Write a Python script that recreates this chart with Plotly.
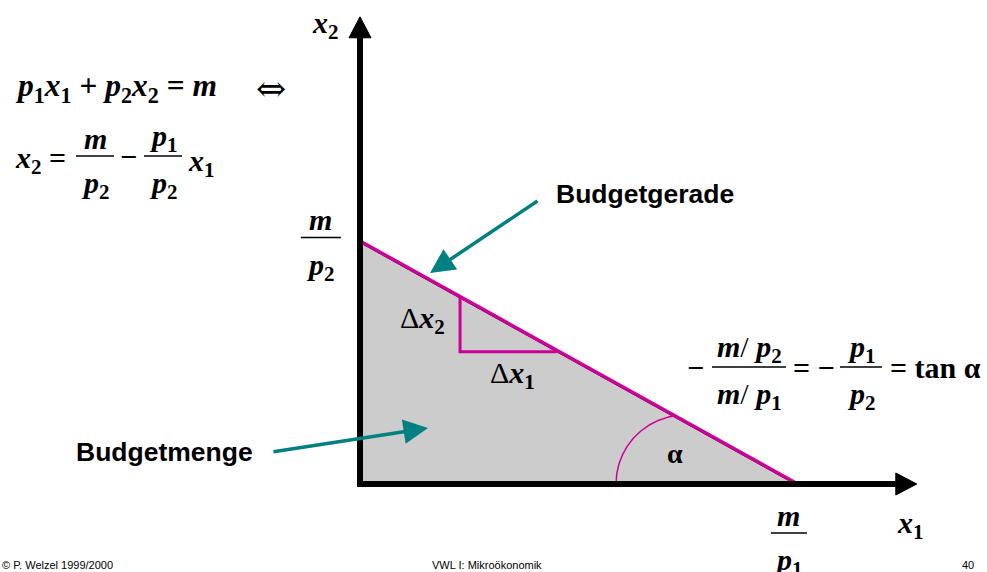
import numpy as np
import plotly.graph_objects as go

# budget line intercepts: m/p1 on the x1 axis, m/p2 on the x2 axis
m_p1 = 10.0
m_p2 = 5.55
# arrow tips of the two axes
x1_end = 12.8
x2_end = 10.74
# small slope triangle (start and end on x1)
delta_x = [2.3, 4.52]
# alpha arc: centre on the x1 axis and radius
arc_centre = 7.47
arc_radius = 1.585

U = 43.5           # pixels per unit
X0, Y0 = 360, 484  # pixel position of the origin
W, H = 987, 572

SERIF = "Liberation Serif"
SANS = "Liberation Sans"
MAGENTA = "#CC0099"
TEAL = "#008080"


def budget(x):
    return m_p2 * (1 - np.asarray(x) / m_p1)


def v(name, sub=None):
    s = "<b><i>%s</i></b>" % name
    if sub:
        s += "<sub><b>%s</b></sub>" % sub
    return s


fig = go.Figure()

# budget set
fig.add_trace(go.Scatter(
    x=[0, 0, m_p1, 0], y=[0, m_p2, 0, 0], fill="toself",
    fillcolor="#CCCCCC", line=dict(color="black", width=1), mode="lines"))

# budget line (magenta, sits just above the black edge)
off = 1.5 / U
fig.add_trace(go.Scatter(
    x=[0, m_p1], y=[m_p2 + off, off], mode="lines",
    line=dict(color=MAGENTA, width=3.5)))

# slope triangle
fig.add_trace(go.Scatter(
    x=[delta_x[0], delta_x[0], delta_x[1]],
    y=[budget(delta_x[0]), budget(delta_x[1]), budget(delta_x[1])],
    mode="lines", line=dict(color=MAGENTA, width=3)))

# alpha arc, from the x1 axis up to the budget line
theta = np.linspace(np.pi, np.pi / 2, 300)
ax_ = arc_centre + arc_radius * np.cos(theta)
ay_ = arc_radius * np.sin(theta)
keep = ay_ <= budget(ax_)
fig.add_trace(go.Scatter(x=ax_[keep], y=ay_[keep], mode="lines",
                         line=dict(color=MAGENTA, width=1.5)))

# axes with arrow heads
head_len = 21 / U
head_half = 11 / U
fig.add_trace(go.Scatter(
    x=[0, 0, x1_end - head_len], y=[x2_end - head_len, 0, 0], mode="lines",
    line=dict(color="black", width=6)))
fig.add_trace(go.Scatter(
    x=[-head_half, head_half, 0, -head_half],
    y=[x2_end - head_len, x2_end - head_len, x2_end, x2_end - head_len],
    fill="toself", fillcolor="black", mode="lines", line=dict(color="black", width=1)))
fig.add_trace(go.Scatter(
    x=[x1_end - head_len, x1_end - head_len, x1_end, x1_end - head_len],
    y=[-head_half, head_half, 0, -head_half],
    fill="toself", fillcolor="black", mode="lines", line=dict(color="black", width=1)))

ann = []
shapes = []


def text(x, y, s, size=30, family=SERIF, xanchor="center", ref="x"):
    ann.append(dict(x=x, y=y, text=s, showarrow=False, xanchor=xanchor, yanchor="middle",
                    xref=ref, yref=ref.replace("x", "y"),
                    font=dict(family=family, size=size, color="black")))


def frac(xc, ybar, num, den, half, size=30):
    text(xc, ybar + 18 / U, num, size)
    text(xc, ybar - 29 / U, den, size)
    shapes.append(dict(type="line", x0=xc - half, x1=xc + half, y0=ybar, y1=ybar,
                       xref="x", yref="y", line=dict(color="black", width=1.5)))


def px(p):
    return (p - X0) / U


def py(p):
    return (Y0 - p) / U


# axis labels
text(px(325), py(25), v("x", "2"))
text(px(910), py(525), v("x", "1"))
frac(-0.9, m_p2 + 5 / U, v("m"), v("p", "2"), 20 / U)
frac(m_p1 - 0.14, py(533), v("m"), v("p", "1"), 18 / U)

# equations, top left
text(px(13), py(88), v("p", "1") + v("x", "1") + " <b>+</b> " + v("p", "2") + v("x", "2")
     + " <b>=</b> " + v("m"), size=31.5, xanchor="left")
text(px(271), py(88), "⇔", size=36, family="DejaVu Serif")
text(px(13), py(160), v("x", "2") + " <b>=</b>", xanchor="left")
frac(px(95), py(156), v("m"), v("p", "2"), 19 / U)
text(px(128), py(156), "<b>−</b>")
frac(px(163), py(156), v("p", "1"), v("p", "2"), 19 / U)
text(px(201), py(163), v("x", "1"))

# slope equation, right
text(px(695), py(367), "<b>−</b>")
frac(px(749), py(367), v("m") + "/ " + v("p", "2"), v("m") + "/ " + v("p", "1"), 37 / U)
text(px(814), py(367), "<b>= −</b>")
frac(px(861), py(367), v("p", "1"), v("p", "2"), 21 / U)
text(px(888), py(367), "<b>= tan α</b>", xanchor="left")

# triangle and angle labels
text(px(422), py(320), "Δ" + v("x", "2"))
text(px(512), py(375), "Δ" + v("x", "1"))
text(px(675), py(453), "<b>α</b>", size=28)

# callouts
text(px(554), py(194), "<b>Budgetgerade</b>", size=26.5, family=SANS, xanchor="left")
text(px(74), py(452), "<b>Budgetmenge</b>", size=26.5, family=SANS, xanchor="left")
for tip, tail in [((430, 273), (539, 200)), ((428, 428), (272, 452))]:
    ann.append(dict(x=px(tip[0]), y=py(tip[1]), ax=px(tail[0]), ay=py(tail[1]),
                    xref="x", yref="y", axref="x", ayref="y", text="",
                    showarrow=True, arrowhead=2, arrowsize=1.4, arrowwidth=3.5,
                    arrowcolor=TEAL, standoff=0))

# footer
for xp, s, anchor in [(0.0, "© P. Welzel 1999/2000", "left"),
                      (0.4934, "VWL I: Mikroökonomik", "center"),
                      (0.981, "40", "center")]:
    ann.append(dict(x=xp, y=1 - 565 / H, xref="paper", yref="paper", text=s,
                    showarrow=False, xanchor=anchor, yanchor="middle",
                    font=dict(family=SANS, size=11, color="black")))

fig.update_layout(
    width=W, height=H, margin=dict(l=0, r=0, t=0, b=0), autosize=False,
    showlegend=False, plot_bgcolor="white", paper_bgcolor="white",
    xaxis=dict(range=[-X0 / U, (W - X0) / U], visible=False, fixedrange=True),
    yaxis=dict(range=[(Y0 - H) / U, Y0 / U], visible=False, fixedrange=True),
    annotations=ann, shapes=shapes, hovermode=False,
)

# page body has a default margin; drop it so the figure fills the window
fig.write_html("out.html", config={"displayModeBar": False},
               post_script="document.body.style.margin='0';")
